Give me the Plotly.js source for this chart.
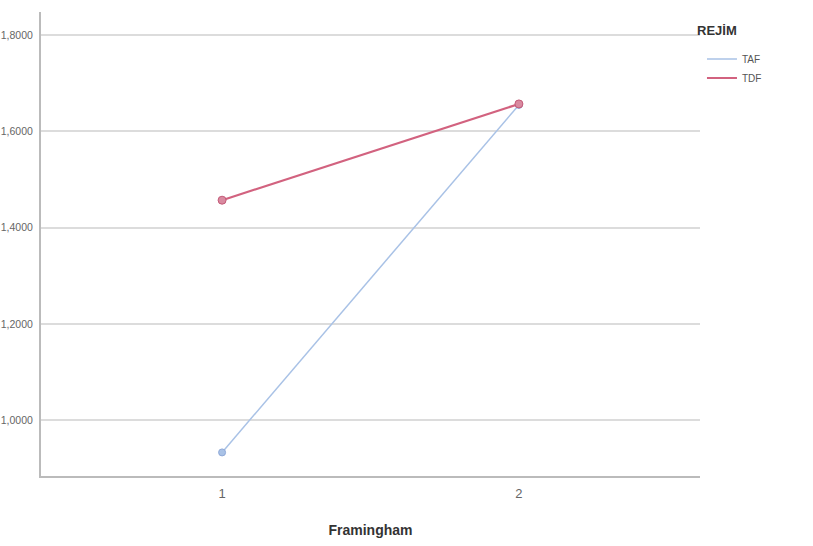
<!DOCTYPE html>
<html><head><meta charset="utf-8">
<script src="https://cdn.plot.ly/plotly-3.0.1.min.js"></script>
<style>html,body{margin:0;padding:0;background:#fff;overflow:hidden}</style>
</head><body>
<div id="chart" style="width:813px;height:546px"></div>
<script>
const categories = [1, 2];
const tafValues = [0.933, 1.655];
const tdfValues = [1.457, 1.657];
const yTickVals = [1.0, 1.2, 1.4, 1.6, 1.8];
const yTickText = ['1,0000', '1,2000', '1,4000', '1,6000', '1,8000'];
const seriesNames = ['TAF', 'TDF'];
const legendTitle = 'REJİM';
const tafColor = '#a9c2e6', tdfColor = '#d2627f';

const traces = [
  {x: categories, y: tafValues, name: seriesNames[0], type: 'scatter', mode: 'lines+markers', showlegend: false,
   line: {color: tafColor, width: 1.5}, marker: {color: '#a9c2e6', size: 7, line: {color: '#8fa9d8', width: 1}}},
  {x: categories, y: tdfValues, name: seriesNames[1], type: 'scatter', mode: 'lines+markers', showlegend: false,
   line: {color: tdfColor, width: 2.2}, marker: {color: '#d98aa0', size: 8, line: {color: '#c45a78', width: 1}}},
  {x: [null], y: [null], name: seriesNames[0], type: 'scatter', mode: 'lines', line: {color: tafColor, width: 1.5}},
  {x: [null], y: [null], name: seriesNames[1], type: 'scatter', mode: 'lines', line: {color: tdfColor, width: 2}}
];

const layout = {
  width: 813, height: 546,
  margin: {l: 41, r: 113, t: 12, b: 70},
  paper_bgcolor: '#fff', plot_bgcolor: '#fff',
  font: {family: 'Arial, Liberation Sans, sans-serif', color: '#444'},
  showlegend: true,
  legend: {
    x: 1.003, y: 0.93, xanchor: 'left', yanchor: 'top',
    font: {size: 10, color: '#555'},
    tracegroupgap: 0, itemwidth: 30, bgcolor: 'rgba(0,0,0,0)'
  },
  annotations: [{
    text: '<b>' + legendTitle + '</b>', xref: 'paper', yref: 'paper', x: 0.993, y: 0.961,
    xanchor: 'left', yanchor: 'middle', showarrow: false, font: {size: 13, color: '#333'}
  }],
  xaxis: {
    range: [0.39, 2.61], tickvals: categories, ticktext: categories.map(String),
    showgrid: false, zeroline: false, showline: true, linecolor: '#bbb', linewidth: 2,
    ticks: '', tickfont: {size: 13, color: '#666'}, ticklabelstandoff: 4,
    title: {text: '<b>Framingham</b>', font: {size: 14, color: '#333'}, standoff: 26}
  },
  yaxis: {
    range: [0.884, 1.848], tickvals: yTickVals, ticktext: yTickText, automargin: false,
    showgrid: true, gridcolor: '#dcdcdc', gridwidth: 2,
    zeroline: false, showline: true, linecolor: '#bbb', linewidth: 2,
    ticks: '', tickfont: {size: 10.5, color: '#666'}, ticklabelstandoff: 4
  }
};

Plotly.newPlot('chart', traces, layout, {displayModeBar: false, staticPlot: true});
</script>
</body></html>
